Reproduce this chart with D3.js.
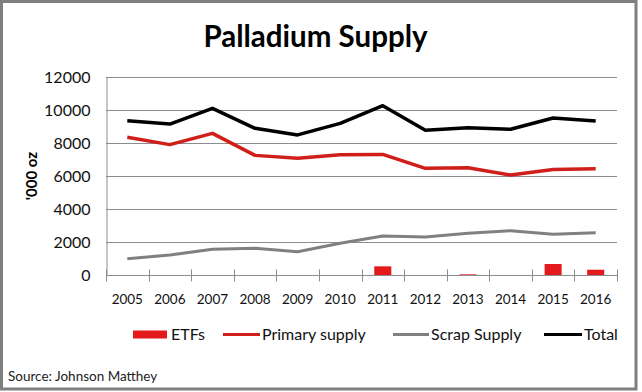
<!DOCTYPE html>
<html>
<head>
<meta charset="utf-8">
<script src="https://cdn.jsdelivr.net/npm/d3@7"></script>
<style>
  body { margin: 0; background: #fff; }
  svg { display: block; font-family: Lato, 'Open Sans', sans-serif; }
</style>
</head>
<body>
<script>
// data ('000 oz)
var years = ['2005', '2006', '2007', '2008', '2009', '2010', '2011', '2012', '2013', '2014', '2015', '2016']
var etfs = [0, 0, 0, 0, 0, 0, 525, 0, 40, 0, 665, 320]
var primarySupply = [8345, 7900, 8585, 7250, 7070, 7290, 7310, 6465, 6505, 6060, 6400, 6445]
var scrapSupply = [990, 1210, 1555, 1615, 1410, 1920, 2360, 2300, 2525, 2685, 2465, 2565]
var total = [9350, 9150, 10100, 8890, 8490, 9190, 10260, 8770, 8930, 8830, 9515, 9340]
var yTicks = [0, 2000, 4000, 6000, 8000, 10000, 12000]
var seriesNames = ['ETFs', 'Primary supply', 'Scrap Supply', 'Total']

var width = 642
var height = 392

var svg = d3.select('body').append('svg')
  .attr('width', width)
  .attr('height', height)

// outer frame
svg.append('rect')
  .attr('x', 1.5)
  .attr('y', 1.5)
  .attr('width', 634.5)
  .attr('height', 387.5)
  .attr('fill', '#fff')
  .attr('stroke', '#7f7f7f')
  .attr('stroke-width', 3)

var plot = { left: 106, right: 617, top: 77, bottom: 275 }

var x = d3.scaleBand()
  .domain(years)
  .range([plot.left, plot.right])

var y = d3.scaleLinear()
  .domain([0, 12000])
  .range([plot.bottom, plot.top])

// title
svg.append('text')
  .attr('x', 315.5)
  .attr('y', 47)
  .attr('text-anchor', 'middle')
  .style('font-size', '29.5px')
  .style('font-weight', 'bold')
  .text('Palladium Supply')

// gridlines
svg.append('g')
  .selectAll('line')
  .data(yTicks)
  .enter()
  .append('line')
  .attr('x1', plot.left)
  .attr('x2', plot.right)
  .attr('y1', function(d) { return Math.round(y(d)) + 0.5 })
  .attr('y2', function(d) { return Math.round(y(d)) + 0.5 })
  .attr('stroke', '#8c8c8c')
  .attr('stroke-width', 1)

// y axis
var yAxis = svg.append('g')
  .attr('transform', `translate(${plot.left + 0.5}, 0.5)`)
  .call(d3.axisLeft(y).tickValues(yTicks).tickSize(0).tickPadding(16).tickFormat(d3.format('d')))
yAxis.select('.domain').attr('stroke', '#8c8c8c')
yAxis.selectAll('text')
  .style('font-family', 'Lato, sans-serif')
  .style('font-size', '16px')
  .attr('fill', '#111')

svg.append('text')
  .attr('transform', 'translate(37, 176) rotate(-90)')
  .attr('text-anchor', 'middle')
  .style('font-size', '15px')
  .style('font-weight', 'bold')
  .text("'000 oz")

// x axis with cross tick marks at band edges
var xAxis = svg.append('g')
  .attr('transform', `translate(0, ${Math.round(y(0)) + 0.5})`)
xAxis.append('line')
  .attr('x1', plot.left)
  .attr('x2', plot.right)
  .attr('stroke', '#8c8c8c')
xAxis.selectAll('.tick-mark')
  .data(years.concat(['end']))
  .enter()
  .append('line')
  .attr('class', 'tick-mark')
  .attr('x1', function(d) { return Math.round(d === 'end' ? plot.right : x(d)) + 0.5 })
  .attr('x2', function(d) { return Math.round(d === 'end' ? plot.right : x(d)) + 0.5 })
  .attr('y1', -6)
  .attr('y2', 6)
  .attr('stroke', '#8c8c8c')
xAxis.selectAll('.year')
  .data(years)
  .enter()
  .append('text')
  .attr('class', 'year')
  .attr('x', function(d) { return x(d) + x.bandwidth() / 2 })
  .attr('y', 28)
  .attr('text-anchor', 'middle')
  .style('font-size', '13.5px')
  .attr('fill', '#111')
  .text(function(d) { return d })

// ETF bars
var barWidth = x.bandwidth() * 0.4
svg.append('g')
  .selectAll('rect')
  .data(etfs)
  .enter()
  .append('rect')
  .attr('x', function(d, i) { return x(years[i]) + (x.bandwidth() - barWidth) / 2 })
  .attr('y', function(d) { return y(d) })
  .attr('width', barWidth)
  .attr('height', function(d) { return y(0) - y(d) })
  .attr('fill', '#e3191c')

// lines
var line = d3.line()
  .x(function(d, i) { return x(years[i]) + x.bandwidth() / 2 })
  .y(function(d) { return y(d) })

var lineSeries = [
  { values: scrapSupply, color: '#808080', width: 3 },
  { values: primarySupply, color: '#d01f1a', width: 3.5 },
  { values: total, color: '#000', width: 3.5 }
]

svg.append('g')
  .selectAll('path')
  .data(lineSeries)
  .enter()
  .append('path')
  .attr('d', function(d) { return line(d.values) })
  .attr('fill', 'none')
  .attr('stroke', function(d) { return d.color })
  .attr('stroke-width', function(d) { return d.width })
  .attr('stroke-linejoin', 'round')

// legend
var legendX = [133, 223, 393, 544]
var symbolWidths = [34, 37, 36, 38]
var legendColors = ['#e3191c', '#d01f1a', '#808080', '#000']
var legend = svg.append('g')
  .selectAll('g')
  .data(seriesNames)
  .enter()
  .append('g')
  .attr('transform', function(d, i) { return `translate(${legendX[i]}, 334.5)` })

legend.each(function(d, i) {
  var g = d3.select(this)
  if (i === 0) {
    g.append('rect')
      .attr('x', 0)
      .attr('y', -4)
      .attr('width', symbolWidths[i])
      .attr('height', 8)
      .attr('fill', legendColors[i])
  } else {
    g.append('line')
      .attr('x1', 0)
      .attr('x2', symbolWidths[i])
      .attr('stroke', legendColors[i])
      .attr('stroke-width', 3)
  }
  g.append('text')
    .attr('x', symbolWidths[i] + (i === 0 ? 4 : 2))
    .attr('y', 5.5)
    .style('font-size', '16px')
    .attr('fill', '#111')
    .text(d)
})

// source note
svg.append('text')
  .attr('x', 8)
  .attr('y', 381)
  .style('font-size', '13.5px')
  .attr('fill', '#222')
  .text('Source: Johnson Matthey')
</script>
</body>
</html>
